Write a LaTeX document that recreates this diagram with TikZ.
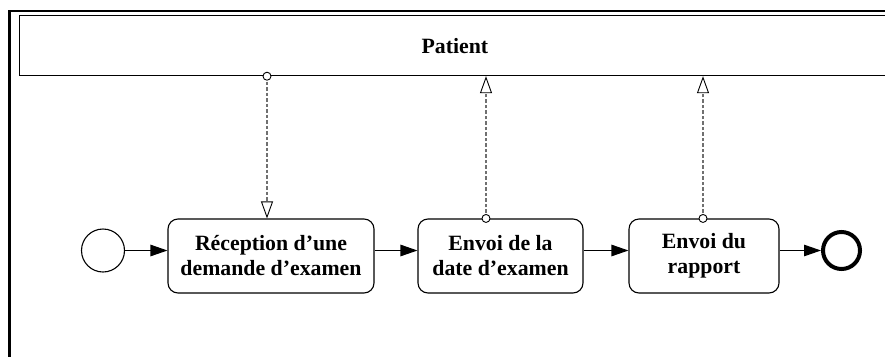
\documentclass[tikz,border=0pt]{standalone}
\usepackage{fontspec}
\setmainfont{Liberation Serif}
\usetikzlibrary{arrows.meta,calc}
\definecolor{msggray}{HTML}{707070}
\tikzset{
 lbl/.style={font=\bfseries\fontsize{21.8}{25}\selectfont},
 task/.style={draw, line width=1.1pt, rounded corners=10pt, fill=white, align=center, lbl, minimum height=74pt, inner sep=0pt},
 seq/.style={line width=1.1pt, -{Triangle[length=17pt,width=11.5pt]}},
 msg/.style={line width=1.3pt, draw=msggray, dash pattern=on 3.5pt off 2pt, -{Triangle[open,length=17pt,width=12pt,color=black,line width=0.9pt]}},
 port/.style={draw=black, fill=white, line width=0.9pt},
}
\begin{document}
\begin{tikzpicture}[x=1pt,y=-1pt]
\useasboundingbox (0,0) rectangle (885,356);
\clip (0,0) rectangle (885,356);
\draw[line width=2.5pt] (9.5,11) rectangle (950,450);
\node[draw, line width=1.2pt, anchor=north west, minimum width=871.5pt, minimum height=60pt, inner sep=0pt, lbl] (pool) at (18.5,15) {Patient};

\node[draw, circle, line width=1.1pt, minimum size=43pt, inner sep=0pt] (start) at (103,250.5) {};
\node[draw, circle, line width=4pt, minimum size=37pt, inner sep=0pt] (end) at (841.5,250.5) {};

\node[task, minimum width=206pt] (rec) at (271,256) {Réception d’une\\demande d’examen};
\node[task, minimum width=165pt] (date) at (500.5,256) {Envoi de la\\date d’examen};
\node[task, minimum width=150pt] (rap) at (704,256) {Envoi du\\rapport};

\draw[seq] (start.east) -- (rec.west |- start.east);
\draw[seq] (rec.east |- start.east) -- (date.west |- start.east);
\draw[seq] (date.east |- start.east) -- (rap.west |- start.east);
\draw[seq] (rap.east |- start.east) -- (end.west);

\coordinate (m1) at ($(rec.north)+(-4,0)$);
\coordinate (m2) at ($(date.north)+(-14.5,0)$);
\coordinate (m3) at ($(rap.north)+(-1,0)$);

\draw[msg] (m1 |- pool.south) -- (m1);
\draw[port] (m1 |- pool.south) circle (4pt);
\draw[msg] (m2) -- (m2 |- pool.south);
\draw[port] (m2) circle (4pt);
\draw[msg] (m3) -- (m3 |- pool.south);
\draw[port] (m3) circle (4pt);
\end{tikzpicture}
\end{document}
